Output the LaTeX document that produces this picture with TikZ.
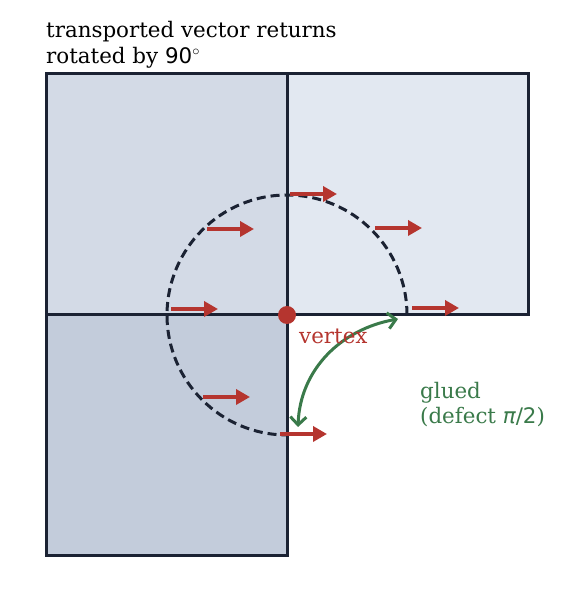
\documentclass[tikz,border=0pt]{standalone}
\usepackage{fontspec}
\setmainfont{DejaVu Serif}
\newfontfamily\dvsans{DejaVu Sans}
\usetikzlibrary{arrows.meta}

\definecolor{sqdark}{HTML}{C3CCDB}
\definecolor{sqmid}{HTML}{D3DAE6}
\definecolor{sqlight}{HTML}{E2E8F1}
\definecolor{edge}{HTML}{1B2233}
\definecolor{vecred}{HTML}{B5352F}
\definecolor{gluegreen}{HTML}{3A7A4A}

\begin{document}
\begin{tikzpicture}[x=1pt, y=1pt,
        face/.style={draw=edge, line width=3pt},
        loop path/.style={draw=edge, line width=3pt, dash pattern=on 9pt off 5pt},
        vec/.style={vecred, line width=4pt, -{Triangle[length=14pt,width=15pt]}},
        glue/.style={gluegreen, line width=3pt,
            {Straight Barb[length=8pt,width=16pt]}-{Straight Barb[length=8pt,width=16pt]}},
        label/.style={inner sep=0pt, align=left, font=\fontsize{21.4}{25.5}\selectfont}]
        \useasboundingbox (0,0) rectangle (586,602);

        % the three squares glued at the vertex
        \draw[face, fill=sqmid] (46,528) rectangle (287,287);
        \draw[face, fill=sqlight] (287,528) rectangle (528,287);
        \draw[face, fill=sqdark] (46,287) rectangle (287,46);

        \coordinate (v) at (287,287);

        % loop round the vertex
        \draw[loop path] (407,287) arc[start angle=0, end angle=270, radius=120pt];

        % transported vectors
        \foreach \x/\y in {207/373, 290/408, 375/374, 171/293, 412/294, 203/205, 280/168}
            \draw[vec] (\x,\y) -- ++(47,0);

        \fill[vecred] (v) circle (9pt);

        \coordinate (g1) at (398,283);
        \coordinate (g2) at (298,175);
        \draw[glue] (g1) to[out=190, in=88] (g2);

        \node[label, anchor=north west] (title) at (46,580.8)
            {transported vector returns\\rotated by {\dvsans 90}$^\circ$};
        \node[label, anchor=base west, text=vecred] (vtx) at (299,258) {vertex};
        \node[label, anchor=north west, text=gluegreen] (glued) at (420,220.3)
            {glued\\(defect {\dvsans\itshape π}{\dvsans /2})};
    \end{tikzpicture}
\end{document}
